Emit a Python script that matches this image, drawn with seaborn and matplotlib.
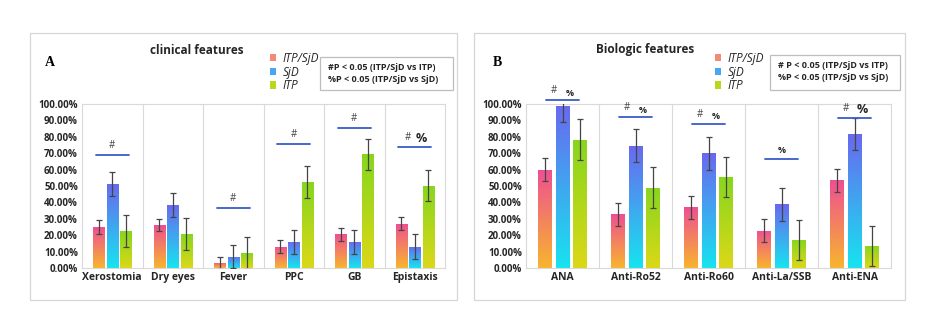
import numpy as np
import pandas as pd
import matplotlib
matplotlib.use("Agg")
import matplotlib.pyplot as plt
from matplotlib.patches import Rectangle, Patch
from matplotlib.colors import LinearSegmentedColormap
import seaborn as sns

sns.set_theme(style="white")
plt.rcParams["font.family"] = ["Open Sans", "DejaVu Sans"]

groups = ["ITP/SjD", "SjD", "ITP"]

# Panel A: clinical features (proportions)
clin_features = ["Xerostomia", "Dry eyes", "Fever", "PPC", "GB", "Epistaxis"]
clin_itp_sjd = [0.25, 0.26, 0.032, 0.131, 0.206, 0.269]
clin_sjd = [0.513, 0.385, 0.069, 0.160, 0.160, 0.131]
clin_itp = [0.225, 0.206, 0.089, 0.522, 0.693, 0.503]
clin_err_itp_sjd = [0.040, 0.036, 0.037, 0.040, 0.039, 0.039]
clin_err_sjd = [0.073, 0.073, 0.072, 0.073, 0.073, 0.074]
clin_err_itp = [0.096, 0.096, 0.097, 0.098, 0.096, 0.097]
clin_sig_y = [0.686, None, 0.364, 0.754, 0.854, 0.736]
clin_sig_hash = [True, False, True, True, True, True]
clin_sig_pct = [False, False, False, False, False, True]

# Panel B: biologic features (proportions)
bio_features = ["ANA", "Anti-Ro52", "Anti-Ro60", "Anti-La/SSB", "Anti-ENA"]
bio_itp_sjd = [0.598, 0.327, 0.369, 0.227, 0.535]
bio_sjd = [0.990, 0.745, 0.700, 0.388, 0.816]
bio_itp = [0.781, 0.490, 0.555, 0.169, 0.135]
bio_err_itp_sjd = [0.070, 0.070, 0.070, 0.070, 0.070]
bio_err_sjd = [0.100, 0.100, 0.100, 0.100, 0.096]
bio_err_itp = [0.125, 0.123, 0.123, 0.123, 0.123]
bio_sig_y = [1.023, 0.920, 0.879, 0.663, 0.912]
bio_sig_hash = [True, True, True, False, True]
bio_sig_pct = [True, True, True, True, True]

# gradient (top colour, bottom colour) per group, and a legend swatch colour
grad = {
    "ITP/SjD": ("#ee4f92", "#f8b52e"),
    "SjD": ("#6a68f0", "#16e4ef"),
    "ITP": ("#86d61e", "#dcd818"),
}
swatch = {"ITP/SjD": "#f28a78", "SjD": "#4aa6f2", "ITP": "#b8d81c"}
sig_blue = "#3a5cc8"
grid_gray = "#d9d9d9"
txt = "#262626"


def long_frame(features, a, b, c):
    rows = []
    for g, vals in zip(groups, (a, b, c)):
        for f, v in zip(features, vals):
            rows.append({"feature": f, "group": g, "value": v})
    return pd.DataFrame(rows)


def draw_panel(ax, features, vals, errs, sig_y, sig_hash, sig_pct,
               width, gap, sig_half, big_pct):
    df = long_frame(features, *vals)
    sns.barplot(data=df, x="feature", y="value", hue="group",
                hue_order=groups, order=features,
                palette=[swatch[g] for g in groups],
                width=width, gap=gap, errorbar=None, legend=False, ax=ax)

    # gradient fill clipped to every bar, plus error bars
    for g, cont, err in zip(groups, ax.containers, errs):
        cmap = LinearSegmentedColormap.from_list(g, [grad[g][1], grad[g][0]])
        xs, ys = [], []
        for bar in cont:
            x0, w, h = bar.get_x(), bar.get_width(), bar.get_height()
            bar.set_facecolor("none")
            bar.set_edgecolor("none")
            img = ax.imshow(np.linspace(0, 1, 256).reshape(-1, 1),
                            extent=[x0, x0 + w, 0, h], origin="lower",
                            cmap=cmap, aspect="auto", zorder=2)
            img.set_clip_path(bar)
            xs.append(x0 + w / 2)
            ys.append(h)
        ax.errorbar(xs, ys, yerr=err, fmt="none", ecolor="#454545",
                    elinewidth=0.9, capsize=2.2, capthick=0.9, zorder=4)

    n = len(features)
    ax.set_xlim(-0.5, n - 0.5)
    ax.set_ylim(0, 1.0)
    for k in range(1, n):
        ax.axvline(k - 0.5, color=grid_gray, lw=0.8, zorder=0)
    for s in ax.spines.values():
        s.set_color(grid_gray)
        s.set_linewidth(0.8)
    ticks = np.arange(0, 1.01, 0.1)
    ax.set_yticks(ticks)
    ax.set_yticklabels([f"{t * 100:.2f}%" for t in ticks],
                       fontsize=7, fontweight="bold", color=txt)
    ax.set_xticks(range(n))
    ax.set_xticklabels(features, fontsize=7.5, fontweight="bold", color=txt)
    ax.tick_params(axis="both", length=0, pad=3)
    ax.set_xlabel("")
    ax.set_ylabel("")

    # significance bars with markers
    for i, (y, hs, pc) in enumerate(zip(sig_y, sig_hash, sig_pct)):
        if y is None:
            continue
        ax.plot([i - sig_half, i + sig_half], [y, y], color=sig_blue,
                lw=1.3, clip_on=False, zorder=5)
        if hs and pc:
            ax.text(i - 0.12, y + 0.025, "#", ha="center", va="bottom",
                    fontsize=7, color="#444444", clip_on=False)
            ax.text(i + 0.1, y + 0.015, "%", ha="center", va="bottom",
                    fontsize=9 if big_pct[i] else 6.5,
                    fontweight="bold", color=txt, clip_on=False)
        elif hs:
            ax.text(i, y + 0.025, "#", ha="center", va="bottom",
                    fontsize=7, color="#444444", clip_on=False)
        elif pc:
            ax.text(i, y + 0.025, "%", ha="center", va="bottom",
                    fontsize=6.5, fontweight="bold", color=txt,
                    clip_on=False)


W, H = 925, 321
fig = plt.figure(figsize=(W / 100, H / 100), dpi=100)
fig.patch.set_facecolor("white")


def fx(px):
    return px / W


def fy(py):
    return 1 - py / H


# outer frames of the two panels
for x0, x1 in [(30, 457), (474, 905)]:
    fig.add_artist(Rectangle((fx(x0), fy(300)), fx(x1 - x0), (300 - 33) / H,
                             transform=fig.transFigure, fill=False,
                             edgecolor="#d6d6d6", lw=0.9))

axA = fig.add_axes([fx(82), fy(268), fx(445 - 82), (268 - 104) / H])
axB = fig.add_axes([fx(526), fy(268), fx(891 - 526), (268 - 104) / H])

draw_panel(axA, clin_features, (clin_itp_sjd, clin_sjd, clin_itp),
           (clin_err_itp_sjd, clin_err_sjd, clin_err_itp),
           clin_sig_y, clin_sig_hash, clin_sig_pct,
           width=0.66, gap=0.17, sig_half=0.27,
           big_pct=[False] * 5 + [True])
draw_panel(axB, bio_features, (bio_itp_sjd, bio_sjd, bio_itp),
           (bio_err_itp_sjd, bio_err_sjd, bio_err_itp),
           bio_sig_y, bio_sig_hash, bio_sig_pct,
           width=0.70, gap=0.18, sig_half=0.22,
           big_pct=[False] * 4 + [True])

# titles and panel letters
fig.text(fx(197), fy(50), "clinical features", ha="center", va="center",
         fontsize=8.5, fontweight="bold", color=txt)
fig.text(fx(645), fy(50), "Biologic features", ha="center", va="center",
         fontsize=8.5, fontweight="bold", color=txt)
fig.text(fx(50), fy(63), "A", ha="center", va="center", fontsize=10,
         fontweight="bold", family=["Liberation Serif"], color="black")
fig.text(fx(497), fy(62), "B", ha="center", va="center", fontsize=10,
         fontweight="bold", family=["Liberation Serif"], color="black")

# legends
handles = [Patch(facecolor=swatch[g], edgecolor="none") for g in groups]
for lx in (270, 715):
    fig.legend(handles, groups, loc="upper left",
               bbox_to_anchor=(fx(lx), fy(52)), frameon=False,
               prop={"style": "italic", "size": 8.5},
               handlelength=0.55, handleheight=0.55, handletextpad=0.5,
               labelspacing=0.05, borderpad=0, borderaxespad=0,
               labelcolor=txt)

# note boxes with the significance key
for (x0, x1, y0, y1), first in [((320, 453, 57, 90), "#P < 0.05 (ITP/SjD vs ITP)"),
                                ((770, 900, 55, 90), "# P < 0.05 (ITP/SjD vs ITP)")]:
    fig.add_artist(Rectangle((fx(x0), fy(y1)), fx(x1 - x0), (y1 - y0) / H,
                             transform=fig.transFigure, fill=False,
                             edgecolor="#bdbdbd", lw=0.9))
    fig.text(fx(x0 + 8), fy(y0 + 10), first, ha="left", va="center",
             fontsize=6.5, fontweight="bold", color=txt)
    fig.text(fx(x0 + 8), fy(y0 + 22), "%P < 0.05 (ITP/SjD vs SjD)",
             ha="left", va="center", fontsize=6.5, fontweight="bold",
             color=txt)

fig.savefig("out.png", dpi=100, facecolor="white")
